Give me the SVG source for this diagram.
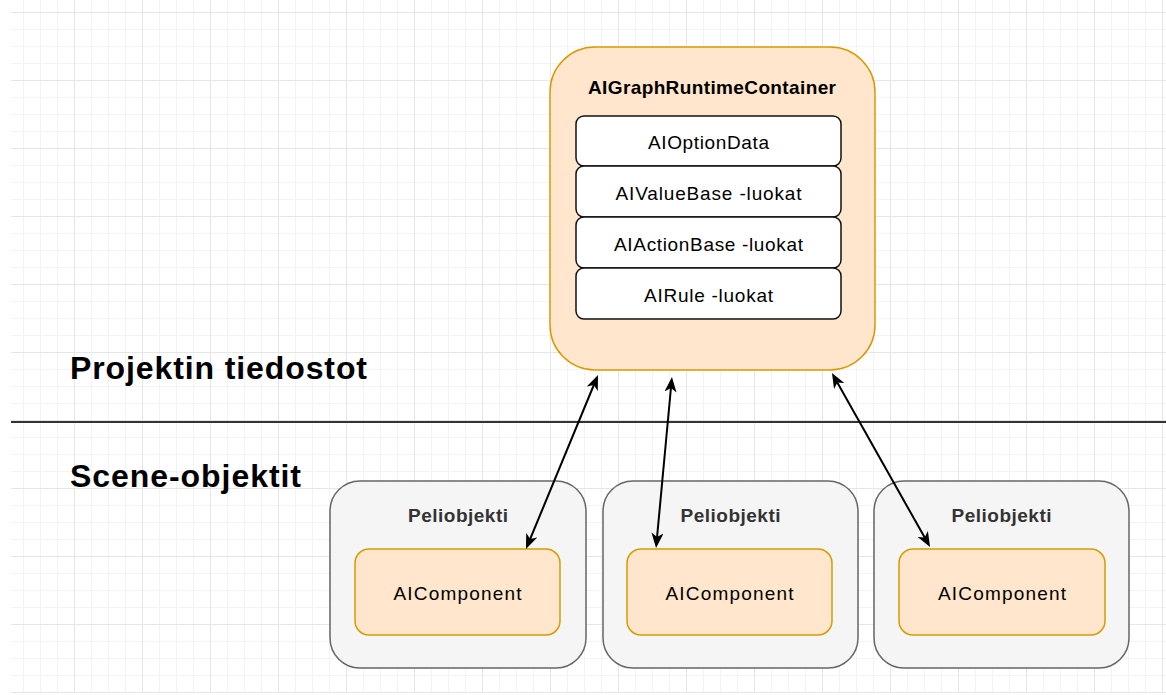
<svg xmlns="http://www.w3.org/2000/svg" width="1166" height="695" viewBox="0 0 1166 695">
<style>
text{font-family:"Liberation Sans",Arial,sans-serif;}
.orange{fill:#ffe6cc;stroke:#d79b00;stroke-width:1.5;}
.white{fill:#ffffff;stroke:#111;stroke-width:1.5;}
.grey{fill:#f5f5f5;stroke:#666;stroke-width:1.5;}
.lbl{font-size:19px;fill:#000;text-anchor:middle;}
.title{font-size:19px;font-weight:bold;fill:#000;text-anchor:middle;}
.ptitle{font-size:19px;font-weight:bold;fill:#333;text-anchor:middle;}
.big{font-size:32px;font-weight:bold;fill:#000;}
.conn{stroke:#000;stroke-width:2;fill:none;marker-start:url(#arr);marker-end:url(#arr);}
</style>
<defs>
<pattern id="minor" patternUnits="userSpaceOnUse" x="6" y="12" width="17" height="17">
<path d="M0 0.5H17M0.5 0V17" stroke="#f3f3f3" stroke-width="1" fill="none"/>
</pattern>
<pattern id="major" patternUnits="userSpaceOnUse" x="6" y="12" width="68" height="68">
<path d="M0 0.5H68M0.5 0V68" stroke="#e6e6e6" stroke-width="1" fill="none"/>
</pattern>
<marker id="arr" markerUnits="userSpaceOnUse" markerWidth="15" markerHeight="12" refX="9" refY="6" orient="auto-start-reverse" viewBox="0 0 15 12">
<path d="M0,0 L15,6 L0,12 L4,6 Z" fill="#000"/>
</marker>
</defs>
<rect x="0" y="0" width="1166" height="695" fill="#ffffff"/>
<rect x="11" y="0" width="1155" height="693" fill="url(#minor)"/>
<rect x="11" y="0" width="1155" height="693" fill="url(#major)"/>

<line x1="11" y1="422" x2="1166" y2="422" stroke="#333" stroke-width="2"/>
<text class="big" x="70" y="379" textLength="297" lengthAdjust="spacing">Projektin tiedostot</text>
<text class="big" x="70" y="487" textLength="231" lengthAdjust="spacing">Scene-objektit</text>

<g id="container">
<rect class="orange" x="550" y="47" width="325" height="323" rx="45" ry="45"/>
<text class="title" x="712" y="94" textLength="248" lengthAdjust="spacing">AIGraphRuntimeContainer</text>
</g>
<g id="optiondata">
<rect class="white" x="576" y="116" width="265" height="50" rx="8" ry="8"/>
<text class="lbl" x="708.5" y="149" textLength="121" lengthAdjust="spacing">AIOptionData</text>
</g>
<g id="valuebase">
<rect class="white" x="576" y="166" width="265" height="51" rx="8" ry="8"/>
<text class="lbl" x="708.5" y="200" textLength="186" lengthAdjust="spacing">AIValueBase -luokat</text>
</g>
<g id="actionbase">
<rect class="white" x="576" y="217" width="265" height="51" rx="8" ry="8"/>
<text class="lbl" x="708.5" y="251" textLength="189" lengthAdjust="spacing">AIActionBase -luokat</text>
</g>
<g id="rule">
<rect class="white" x="576" y="268" width="265" height="51" rx="8" ry="8"/>
<text class="lbl" x="708.5" y="302" textLength="129" lengthAdjust="spacing">AIRule -luokat</text>
</g>

<g id="peli1">
<rect class="grey" x="330" y="481" width="256" height="187" rx="30" ry="30"/>
<text class="ptitle" x="458" y="522" textLength="100" lengthAdjust="spacing">Peliobjekti</text>
</g>
<g id="comp1">
<rect class="orange" x="355" y="549" width="205" height="86" rx="14" ry="14"/>
<text class="lbl" x="457.5" y="600" textLength="128" lengthAdjust="spacing">AIComponent</text>
</g>
<g id="peli2">
<rect class="grey" x="603" y="481" width="255" height="187" rx="30" ry="30"/>
<text class="ptitle" x="730.5" y="522" textLength="100" lengthAdjust="spacing">Peliobjekti</text>
</g>
<g id="comp2">
<rect class="orange" x="627" y="549" width="205" height="86" rx="14" ry="14"/>
<text class="lbl" x="729.5" y="600" textLength="128" lengthAdjust="spacing">AIComponent</text>
</g>
<g id="peli3">
<rect class="grey" x="874" y="481" width="255" height="187" rx="30" ry="30"/>
<text class="ptitle" x="1001.5" y="522" textLength="100" lengthAdjust="spacing">Peliobjekti</text>
</g>
<g id="comp3">
<rect class="orange" x="899" y="549" width="206" height="86" rx="14" ry="14"/>
<text class="lbl" x="1002" y="600" textLength="128" lengthAdjust="spacing">AIComponent</text>
</g>

<g id="connectors">
<line class="conn" x1="528.3" y1="543.5" x2="595.7" y2="380.5"/>
<line class="conn" x1="656.6" y1="542" x2="671.4" y2="383"/>
<line class="conn" x1="927.1" y1="541.8" x2="834.9" y2="378.2"/>
</g>
</svg>
